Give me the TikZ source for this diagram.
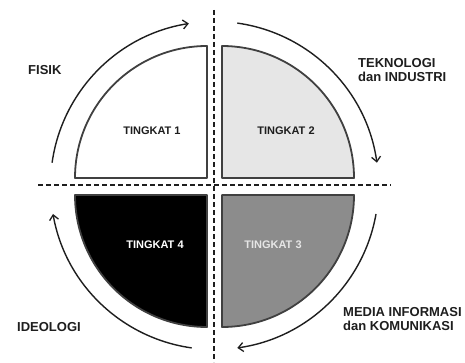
\documentclass[tikz,border=0pt]{standalone}
\usepackage{fontspec}
\setmainfont{Liberation Sans}[BoldFont={Liberation Sans Bold}]
\usetikzlibrary{arrows.meta}
\definecolor{ink}{HTML}{1E1E1E}
\definecolor{lightq}{HTML}{E6E6E6}
\definecolor{midq}{HTML}{8C8C8C}
\tikzset{
  quad/.style={draw=ink!85, line width=1.8pt, line join=round},
  cyc/.style={draw=ink, line width=1.4pt, -{Straight Barb[length=5pt,width=9pt,line width=1.3pt]}},
  sep/.style={draw=ink, line width=1.3pt, dash pattern=on 5pt off 3pt},
  lvl/.style={font=\bfseries\fontsize{11}{13}\selectfont, inner sep=0pt},
  lab/.style={font=\bfseries\fontsize{13}{14.5}\selectfont, text=ink, inner sep=0pt, align=left}
}
\begin{document}
\begin{tikzpicture}[x=1pt,y=1pt]
\useasboundingbox (0,0) rectangle (465,362);
\fill[white] (0,0) rectangle (465,362);
% quadrants
\draw[quad, fill=white] (207,184) -- (75,184) arc[start angle=180,end angle=90,radius=132] -- cycle;
\draw[quad, fill=lightq] (222,184) -- (222,316) arc[start angle=90,end angle=0,radius=132] -- cycle;
\draw[quad, fill=black] (207,167) -- (75,167) arc[start angle=180,end angle=270,radius=132] -- cycle;
\draw[quad, fill=midq] (222,167) -- (354,167) arc[start angle=0,end angle=-90,radius=132] -- cycle;
% separators
\coordinate (vt) at (214,352);
\coordinate (vb) at (214,0);
\coordinate (hl) at (38,177);
\coordinate (hr) at (391,177);
\draw[sep] (vt) -- (vb);
\draw[sep] (hl) -- (hr);
% cycle arrows
\coordinate (c) at (214.5,176.5);
\draw[cyc] ([shift={(172:164)}]c) arc[start angle=172,end angle=99,radius=164];
\draw[cyc] ([shift={(82:164)}]c) arc[start angle=82,end angle=8,radius=164];
\draw[cyc] ([shift={(-10:164)}]c) arc[start angle=-10,end angle=-82,radius=164];
\draw[cyc] ([shift={(-98:164)}]c) arc[start angle=-98,end angle=-170,radius=164];
% level labels
\node[lvl, text=ink] (t1) at (152,231) {TINGKAT 1};
\node[lvl, text=ink] (t2) at (286,231) {TINGKAT 2};
\node[lvl, text=white] (t4) at (155,117) {TINGKAT 4};
\node[lvl, text=lightq] (t3) at (273,117) {TINGKAT 3};
% outer labels
\node[lab, anchor=west] (fisik) at (28,292) {FISIK};
\node[lab, anchor=west] (tek) at (358,292) {TEKNOLOGI\\dan INDUSTRI};
\node[lab, anchor=west] (med) at (343,43) {MEDIA INFORMASI\\dan KOMUNIKASI};
\node[lab, anchor=west] (ideo) at (17,35) {IDEOLOGI};
\end{tikzpicture}
\end{document}
